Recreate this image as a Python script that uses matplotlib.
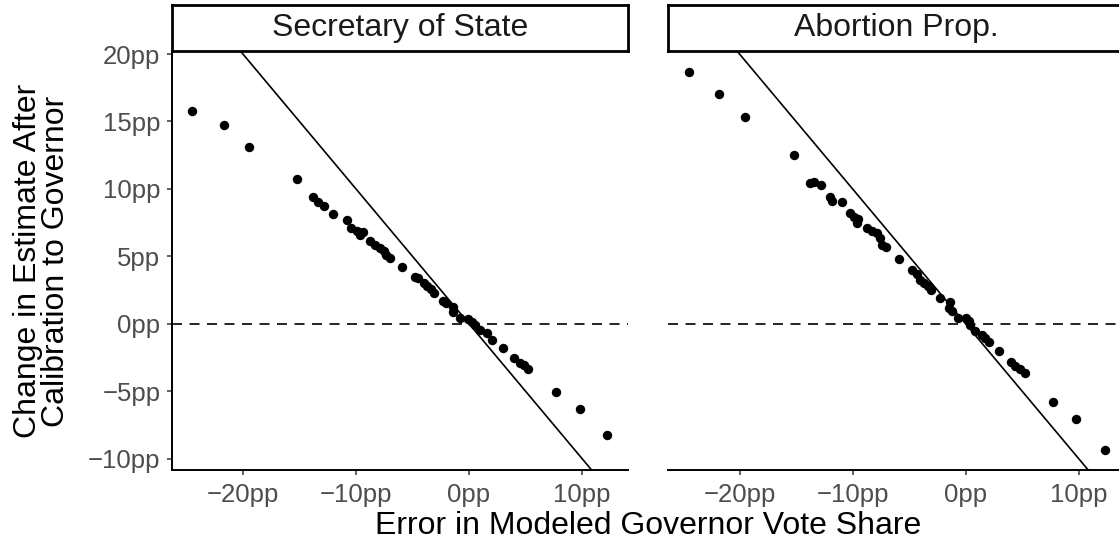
import matplotlib
matplotlib.use("Agg")
import matplotlib.pyplot as plt
from matplotlib.ticker import FuncFormatter

plt.rcParams['font.family'] = ['Liberation Sans', 'DejaVu Sans']

panels = ["Secretary of State", "Abortion Prop."]

# error in modeled governor vote share (pp), change after calibration (pp)
sos_x = [-24.5, -21.7, -19.5, -15.2, -13.8, -13.4, -12.8, -12.0, -10.8, -10.4,
         -9.9, -9.6, -9.4, -8.8, -8.3, -7.9, -7.5, -7.3, -7.0, -5.9,
         -4.8, -4.5, -4.0, -3.7, -3.4, -3.1, -2.3, -2.0, -1.45, -1.4,
         -0.8, -0.06, 0.24, 0.5, 0.97, 1.57, 2.0, 3.0, 4.0, 4.5,
         4.9, 5.25, 7.7, 9.8, 12.2]
sos_y = [15.8, 14.7, 13.1, 10.7, 9.4, 9.0, 8.7, 8.1, 7.7, 7.1,
         6.9, 6.6, 6.8, 6.1, 5.85, 5.6, 5.4, 5.1, 4.9, 4.2,
         3.5, 3.4, 3.0, 2.76, 2.57, 2.3, 1.65, 1.5, 1.27, 0.9,
         0.42, 0.37, 0.1, -0.1, -0.44, -0.69, -1.23, -1.8, -2.55, -2.9,
         -3.04, -3.36, -5.06, -6.3, -8.25]

abort_x = [-24.5, -21.8, -19.5, -15.2, -13.8, -13.4, -12.8, -12.0, -11.85, -10.9,
           -10.2, -9.9, -9.5, -9.6, -8.7, -8.3, -7.85, -7.6, -7.4, -7.0,
           -5.9, -4.75, -4.3, -4.0, -3.7, -3.3, -3.1, -2.3, -1.4, -1.5,
           -1.2, -0.7, 0.0, 0.27, 0.4, 0.86, 1.45, 1.75, 2.1, 3.0,
           4.0, 4.4, 4.8, 5.3, 7.75, 9.8, 12.3]
abort_y = [18.7, 17.0, 15.36, 12.5, 10.47, 10.5, 10.25, 9.4, 9.1, 9.0,
           8.2, 7.95, 7.8, 7.45, 7.1, 6.9, 6.7, 6.35, 5.85, 5.7,
           4.8, 3.97, 3.65, 3.26, 3.0, 2.76, 2.47, 1.9, 1.6, 1.16,
           0.96, 0.42, 0.42, 0.17, -0.1, -0.57, -0.81, -1.06, -1.38, -2.0,
           -2.86, -3.16, -3.36, -3.65, -5.8, -7.05, -9.4]

xticks = [-20, -10, 0, 10]
yticks = [-10, -5, 0, 5, 10, 15, 20]
xlim = (-26.3, 14.07)
ylim = (-10.85, 20.15)

W, H = 1119, 542
fig = plt.figure(figsize=(W / 100, H / 100), dpi=100)

pp = FuncFormatter(lambda v, _: f"{int(v)}pp".replace("-", "\u2212"))
data = [(sos_x, sos_y), (abort_x, abort_y)]
lefts = [171.7, 668.3]
pw = 456.3

for i, (name, (xs, ys)) in enumerate(zip(panels, data)):
    ax = fig.add_axes([lefts[i] / W, (H - 470) / H, pw / W, (470 - 52) / H])
    ax.scatter(xs, ys, s=46, color="black", linewidths=0, zorder=3)
    ax.axhline(0, color="black", lw=1.2, dashes=(6, 4.5))
    ax.plot([-40, 40], [40, -40], color="black", lw=1.2)
    ax.set_xlim(*xlim)
    ax.set_ylim(*ylim)
    ax.set_xticks(xticks)
    ax.set_yticks(yticks)
    ax.xaxis.set_major_formatter(pp)
    ax.yaxis.set_major_formatter(pp)
    ax.tick_params(length=3.6, width=1.1, color="#333333", labelcolor="#4D4D4D",
                   labelsize=18.5)
    ax.tick_params(axis="x", pad=5.5)
    ax.tick_params(axis="y", pad=4.5)
    for s in ["top", "right"]:
        ax.spines[s].set_visible(False)
    ax.spines["bottom"].set_linewidth(1.4)
    ax.spines["left"].set_linewidth(1.4)
    if i == 1:
        ax.spines["left"].set_visible(False)
        ax.tick_params(axis="y", left=False, labelleft=False)

    # facet strip
    st = fig.add_axes([lefts[i] / W, (H - 51) / H, pw / W, 46 / H])
    st.set_xticks([])
    st.set_yticks([])
    for s in st.spines.values():
        s.set_linewidth(2.0)
    st.text(0.5, 0.5, name, ha="center", va="center", fontsize=23,
            color="#1A1A1A", transform=st.transAxes)

fig.text(648 / W, 1 - 534 / H, "Error in Modeled Governor Vote Share",
         ha="center", va="baseline", fontsize=23)
fig.text(42 / W, 1 - 261 / H, "Change in Estimate After\nCalibration to Governor",
         ha="center", va="center", rotation=90, fontsize=23, linespacing=0.95)

fig.savefig("out.png", dpi=100)
